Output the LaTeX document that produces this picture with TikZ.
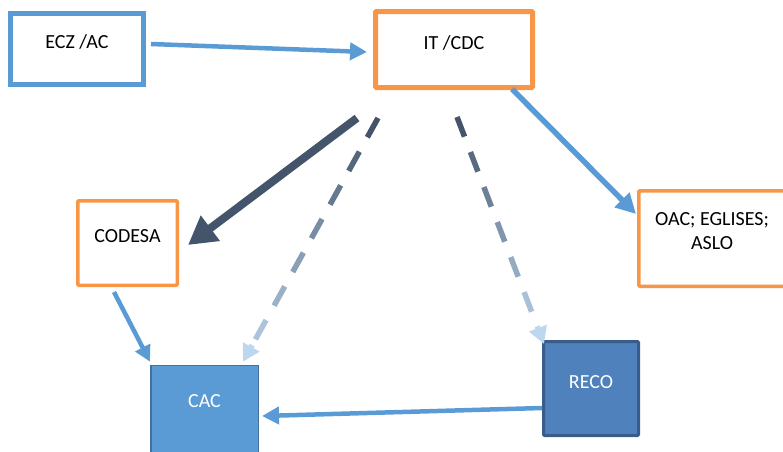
\documentclass[tikz,border=0pt]{standalone}
\usepackage{fontspec}
\setmainfont{Carlito}
\usetikzlibrary{arrows.meta,calc}
\definecolor{accblue}{HTML}{5B9BD5}
\definecolor{accorange}{HTML}{F79646}
\definecolor{slate}{HTML}{44546A}
\definecolor{paleblue}{HTML}{BDD7EE}
\definecolor{recofill}{HTML}{4F81BD}
\definecolor{recoline}{HTML}{385D8A}
\definecolor{cacline}{HTML}{41719C}

% dashed connector whose colour fades from slate to pale blue, ending in a pale head
% #1 start, #2 end, #3 number of dashes, #4 dash length, #5 period, #6 line width
\newcommand{\fadedash}[6]{%
  \foreach \i in {0,...,\numexpr#3-1\relax}{%
    \pgfmathsetmacro{\da}{\i*#5}%
    \pgfmathsetmacro{\db}{\i*#5+#4}%
    \pgfmathsetmacro{\mixp}{100*\i/(#3)}%
    \colorlet{dashcol}{paleblue!\mixp!slate}%
    \draw[line width=#6, dashcol] ($(#1)!\da pt!(#2)$) -- ($(#1)!\db pt!(#2)$);
  }%
  \draw[line width=#6, paleblue, -{Triangle[length=17pt,width=18pt]}]
    ($(#2)!19pt!(#1)$) -- (#2);
}

\begin{document}
\begin{tikzpicture}[x=1pt,y=-1pt,
  box/.style={rectangle, font=\fontsize{20}{24}\selectfont, text depth=14pt, align=center},
  conn/.style={line width=4.5pt, accblue, -{Triangle[length=17pt,width=17pt]}}]
\useasboundingbox (0,0) rectangle (783,451);
\clip (0,0) rectangle (783,451);

% boxes
\node[box, draw=accblue, line width=5pt, minimum width=133pt, minimum height=71pt]
  (ecz) at (77,49) {ECZ /AC};
\node[box, draw=accorange, line width=5pt, minimum width=157pt, minimum height=76pt, rounded corners=1pt]
  (it) at (454,49.5) {IT /CDC};
\node[box, draw=accorange, line width=3.5pt, minimum width=99.5pt, minimum height=84.5pt, rounded corners=1pt]
  (codesa) at (127.5,243) {CODESA};
\node[box, draw=accorange, line width=3.5pt, minimum width=146.5pt, minimum height=95.5pt, rounded corners=1pt]
  (oac) at (712,238.5) {OAC; EGLISES;\\ASLO};
\node[box, fill=accblue, draw=cacline, line width=1.5pt, minimum width=107.5pt, minimum height=95pt,
  text=white, text depth=24pt]
  (cac) at (204.5,413) {CAC};
\node[box, fill=recofill, draw=recoline, line width=3pt, minimum width=95pt, minimum height=94pt,
  text=white, rounded corners=1pt]
  (reco) at (591,388.5) {RECO};

% solid connectors
\draw[conn, line width=4.5pt] ([xshift=5pt,yshift=5pt]ecz.east) -- ([xshift=-6pt,yshift=-2.5pt]it.west);
\draw[conn, line width=5.5pt, -{Triangle[length=20pt,width=20pt]}]
  ([xshift=58pt,yshift=1pt]it.south) -- ([xshift=-1pt,yshift=24.5pt]oac.west);
\draw[line width=8pt, slate, -{Triangle[length=28pt,width=30pt]}]
  ([xshift=-97pt,yshift=-28pt]it.south) -- ([xshift=9pt,yshift=-2pt]codesa.east);
\draw[conn, line width=4.5pt, -{Triangle[length=16pt,width=16pt]}]
  ([xshift=-13.5pt,yshift=-5pt]codesa.south) -- ([yshift=3pt]cac.north west);
\draw[conn, line width=4.5pt] ([yshift=-19.5pt]reco.west) -- ([xshift=3pt,yshift=-3pt]cac.east);

% faded dashed connectors
\coordinate (d1s) at ([xshift=-76pt,yshift=-28pt]it.south);
\coordinate (d1e) at ([xshift=38.5pt,yshift=3pt]cac.north);
\fadedash{d1s}{d1e}{7}{22}{38.5}{5.5pt}
\coordinate (d2s) at ([xshift=3pt,yshift=-27pt]it.south);
\coordinate (d2e) at ([xshift=2pt,yshift=-4pt]reco.north west);
\fadedash{d2s}{d2e}{6}{21}{37.5}{5.5pt}
\end{tikzpicture}
\end{document}
